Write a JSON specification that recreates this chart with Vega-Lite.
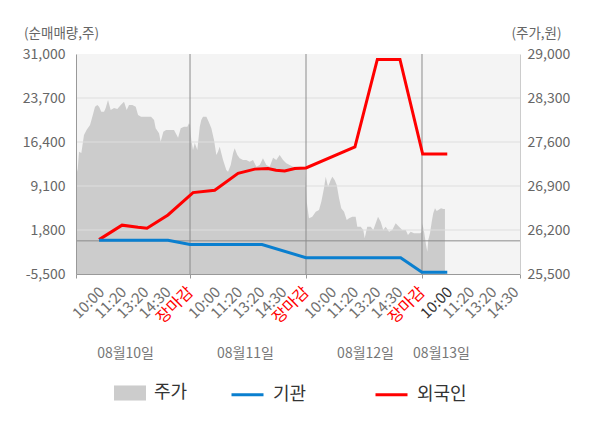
{
  "$schema": "https://vega.github.io/schema/vega-lite/v6.json",
  "width": 444,
  "height": 220,
  "autosize": {"type": "none"},
  "padding": {"left": 76, "top": 54, "right": 80, "bottom": 154},
  "background": "white",
  "config": {
    "view": {"fill": "#f4f4f4", "stroke": null},
    "font": "Noto Sans CJK KR",
    "axis": {"labelFont": "Noto Sans CJK KR", "titleFont": "Noto Sans CJK KR"},
    "legend": {"labelFont": "Noto Sans CJK KR"}
  },
  "datasets": {
    "price": [
      {"t":0.017,"p":27261,"s":"주가"},{"t":0.030,"p":27128,"s":"주가"},{"t":0.043,"p":27446,"s":"주가"},{"t":0.063,"p":27425,"s":"주가"},
      {"t":0.086,"p":27711,"s":"주가"},{"t":0.108,"p":27791,"s":"주가"},{"t":0.138,"p":27871,"s":"주가"},{"t":0.158,"p":28003,"s":"주가"},
      {"t":0.181,"p":28162,"s":"주가"},{"t":0.201,"p":28189,"s":"주가"},{"t":0.216,"p":28162,"s":"주가"},{"t":0.235,"p":28082,"s":"주가"},
      {"t":0.259,"p":28082,"s":"주가"},{"t":0.273,"p":28141,"s":"주가"},{"t":0.293,"p":28268,"s":"주가"},{"t":0.316,"p":28109,"s":"주가"},
      {"t":0.345,"p":28141,"s":"주가"},{"t":0.373,"p":28125,"s":"주가"},{"t":0.403,"p":28189,"s":"주가"},{"t":0.431,"p":28241,"s":"주가"},
      {"t":0.454,"p":28109,"s":"주가"},{"t":0.474,"p":28189,"s":"주가"},{"t":0.503,"p":28189,"s":"주가"},{"t":0.532,"p":28162,"s":"주가"},
      {"t":0.552,"p":28030,"s":"주가"},{"t":0.578,"p":28003,"s":"주가"},{"t":0.612,"p":28003,"s":"주가"},{"t":0.664,"p":28003,"s":"주가"},
      {"t":0.690,"p":27950,"s":"주가"},{"t":0.704,"p":27818,"s":"주가"},{"t":0.733,"p":27739,"s":"주가"},{"t":0.747,"p":27605,"s":"주가"},
      {"t":0.770,"p":27764,"s":"주가"},{"t":0.793,"p":27791,"s":"주가"},{"t":0.862,"p":27791,"s":"주가"},{"t":0.877,"p":27739,"s":"주가"},
      {"t":0.897,"p":27669,"s":"주가"},{"t":0.920,"p":27818,"s":"주가"},{"t":0.948,"p":27844,"s":"주가"},{"t":0.977,"p":27844,"s":"주가"},
      {"t":0.991,"p":27898,"s":"주가"},{"t":1.000,"p":27871,"s":"주가"},{"t":1.011,"p":27632,"s":"주가"},{"t":1.026,"p":27473,"s":"주가"},
      {"t":1.041,"p":27584,"s":"주가"},{"t":1.063,"p":27473,"s":"주가"},{"t":1.084,"p":27844,"s":"주가"},{"t":1.097,"p":27950,"s":"주가"},
      {"t":1.112,"p":28003,"s":"주가"},{"t":1.141,"p":28003,"s":"주가"},{"t":1.161,"p":27923,"s":"주가"},{"t":1.184,"p":27818,"s":"주가"},
      {"t":1.207,"p":27632,"s":"주가"},{"t":1.227,"p":27393,"s":"주가"},{"t":1.241,"p":27446,"s":"주가"},{"t":1.256,"p":27525,"s":"주가"},
      {"t":1.270,"p":27420,"s":"주가"},{"t":1.285,"p":27314,"s":"주가"},{"t":1.313,"p":27155,"s":"주가"},{"t":1.328,"p":27128,"s":"주가"},
      {"t":1.351,"p":27234,"s":"주가"},{"t":1.371,"p":27420,"s":"주가"},{"t":1.385,"p":27500,"s":"주가"},{"t":1.408,"p":27393,"s":"주가"},
      {"t":1.428,"p":27341,"s":"주가"},{"t":1.457,"p":27314,"s":"주가"},{"t":1.485,"p":27314,"s":"주가"},{"t":1.515,"p":27287,"s":"주가"},
      {"t":1.543,"p":27314,"s":"주가"},{"t":1.572,"p":27207,"s":"주가"},{"t":1.601,"p":27234,"s":"주가"},{"t":1.629,"p":27341,"s":"주가"},
      {"t":1.658,"p":27234,"s":"주가"},{"t":1.687,"p":27207,"s":"주가"},{"t":1.716,"p":27350,"s":"주가"},{"t":1.744,"p":27314,"s":"주가"},
      {"t":1.773,"p":27393,"s":"주가"},{"t":1.802,"p":27314,"s":"주가"},{"t":1.830,"p":27261,"s":"주가"},{"t":1.860,"p":27234,"s":"주가"},
      {"t":1.888,"p":27207,"s":"주가"},{"t":1.991,"p":27207,"s":"주가"},{"t":2.006,"p":26650,"s":"주가"},{"t":2.026,"p":26386,"s":"주가"},
      {"t":2.054,"p":26412,"s":"주가"},{"t":2.084,"p":26491,"s":"주가"},{"t":2.112,"p":26518,"s":"주가"},{"t":2.132,"p":26650,"s":"주가"},
      {"t":2.155,"p":26863,"s":"주가"},{"t":2.170,"p":27048,"s":"주가"},{"t":2.190,"p":26889,"s":"주가"},{"t":2.213,"p":26996,"s":"주가"},
      {"t":2.227,"p":27048,"s":"주가"},{"t":2.247,"p":26996,"s":"주가"},{"t":2.265,"p":26916,"s":"주가"},{"t":2.285,"p":26704,"s":"주가"},
      {"t":2.304,"p":26545,"s":"주가"},{"t":2.328,"p":26491,"s":"주가"},{"t":2.351,"p":26359,"s":"주가"},{"t":2.371,"p":26386,"s":"주가"},
      {"t":2.399,"p":26412,"s":"주가"},{"t":2.428,"p":26412,"s":"주가"},{"t":2.442,"p":26253,"s":"주가"},{"t":2.472,"p":26253,"s":"주가"},
      {"t":2.494,"p":26200,"s":"주가"},{"t":2.506,"p":26068,"s":"주가"},{"t":2.528,"p":26253,"s":"주가"},{"t":2.558,"p":26253,"s":"주가"},
      {"t":2.580,"p":26200,"s":"주가"},{"t":2.601,"p":26307,"s":"주가"},{"t":2.621,"p":26412,"s":"주가"},{"t":2.644,"p":26332,"s":"주가"},
      {"t":2.666,"p":26200,"s":"주가"},{"t":2.687,"p":26253,"s":"주가"},{"t":2.716,"p":26173,"s":"주가"},{"t":2.744,"p":26200,"s":"주가"},
      {"t":2.773,"p":26307,"s":"주가"},{"t":2.802,"p":26253,"s":"주가"},{"t":2.830,"p":26200,"s":"주가"},{"t":2.860,"p":26200,"s":"주가"},
      {"t":2.879,"p":26120,"s":"주가"},{"t":2.903,"p":26173,"s":"주가"},{"t":2.931,"p":26148,"s":"주가"},{"t":2.983,"p":26148,"s":"주가"},
      {"t":2.997,"p":26163,"s":"주가"},{"t":3.003,"p":26307,"s":"주가"},{"t":3.020,"p":26148,"s":"주가"},{"t":3.035,"p":25961,"s":"주가"},
      {"t":3.046,"p":25855,"s":"주가"},{"t":3.054,"p":26041,"s":"주가"},{"t":3.069,"p":26148,"s":"주가"},{"t":3.084,"p":26332,"s":"주가"},
      {"t":3.097,"p":26466,"s":"주가"},{"t":3.112,"p":26545,"s":"주가"},{"t":3.127,"p":26502,"s":"주가"},{"t":3.141,"p":26518,"s":"주가"},
      {"t":3.164,"p":26545,"s":"주가"},{"t":3.184,"p":26534,"s":"주가"},{"t":3.198,"p":26534,"s":"주가"}
    ],
    "flow": [
      {"t":0.216,"v":200,"s":"외국인"},{"t":0.414,"v":2600,"s":"외국인"},{"t":0.552,"v":2250,"s":"외국인"},{"t":0.629,"v":2100,"s":"외국인"},
      {"t":0.810,"v":4300,"s":"외국인"},{"t":1.026,"v":8000,"s":"외국인"},{"t":1.213,"v":8400,"s":"외국인"},{"t":1.414,"v":11200,"s":"외국인"},
      {"t":1.558,"v":11900,"s":"외국인"},{"t":1.672,"v":12000,"s":"외국인"},{"t":1.741,"v":11700,"s":"외국인"},{"t":1.816,"v":11600,"s":"외국인"},
      {"t":1.903,"v":12000,"s":"외국인"},{"t":2.000,"v":12100,"s":"외국인"},{"t":2.422,"v":15600,"s":"외국인"},{"t":2.615,"v":30100,"s":"외국인"},
      {"t":2.810,"v":30100,"s":"외국인"},{"t":3.006,"v":14400,"s":"외국인"},{"t":3.218,"v":14400,"s":"외국인"},
      {"t":0.216,"v":100,"s":"기관"},{"t":0.810,"v":100,"s":"기관"},{"t":1.000,"v":-600,"s":"기관"},{"t":1.621,"v":-600,"s":"기관"},
      {"t":2.000,"v":-2800,"s":"기관"},{"t":2.816,"v":-2800,"s":"기관"},{"t":3.000,"v":-5200,"s":"기관"},{"t":3.218,"v":-5200,"s":"기관"}
    ]
  },
  "layer": [
    {
      "data": {"name": "price"},
      "mark": {"type": "area", "interpolate": "linear"},
      "encoding": {
        "x": {
          "field": "t", "type": "quantitative",
          "scale": {"domain": [0.017, 3.845], "nice": false, "zero": false},
          "axis": {
            "orient": "bottom", "zindex": 1, "title": null, "grid": false,
            "values": [0.017, 0.235, 0.426, 0.617, 0.808, 1, 1.235, 1.426, 1.617, 1.808, 2, 2.235, 2.426, 2.617, 2.808, 3, 3.235, 3.426, 3.617, 3.808, 3.845],
            "labelExpr": "datum.value < 0.1 || datum.value > 3.84 ? '' : datum.value % 1 < 0.01 ? '장마감' : datum.value % 1 < 0.3 ? '10:00' : datum.value % 1 < 0.5 ? '11:20' : datum.value % 1 < 0.7 ? '13:20' : '14:30'",
            "labelAngle": -45, "labelAlign": "right", "labelBaseline": "middle", "labelPadding": 11,
            "labelFontSize": {"condition": {"test": "datum.value % 1 < 0.01", "value": 16}, "value": 15},
            "labelOverlap": false, "labelFlush": false, "labelBound": false,
            "labelColor": {"condition": [{"test": "datum.value % 1 < 0.01 && datum.value >= 1", "value": "#ff0000"}, {"test": "datum.value > 3.2 && datum.value < 3.3", "value": "#333333"}], "value": "#707070"},
            "tickOpacity": {"condition": {"test": "datum.value % 1 < 0.01 || datum.value < 0.1 || datum.value > 3.84", "value": 1}, "value": 0},
            "tickSize": 4, "tickColor": "#999999", "domainColor": "#999999"
          }
        },
        "y": {
          "field": "p", "type": "quantitative",
          "scale": {"domain": [25500, 29000], "nice": false, "zero": false},
          "axis": {
            "orient": "right", "zindex": 1, "values": [25500, 26200, 26900, 27600, 28300, 29000], "format": ",d",
            "ticks": false, "grid": false, "domain": true, "domainColor": "#cccccc",
            "labelPadding": 7, "labelFontSize": 14, "labelColor": "#666666",
            "title": "(주가,원)", "titleAngle": 0, "titleAlign": "center", "titleBaseline": "middle",
            "titleX": 16, "titleY": -21, "titleFontSize": 13.5, "titleFontWeight": "normal", "titleColor": "#666666"
          }
        },
        "y2": {"datum": 25500},
        "fill": {
          "field": "s", "type": "nominal",
          "scale": {"domain": ["주가"], "range": ["#cccccc"]},
          "legend": {
            "title": null, "orient": "none", "legendX": 38, "legendY": 323, "direction": "horizontal", "padding": 0,
            "symbolType": "M-1,-0.47H1V0.47H-1Z", "symbolSize": 1024, "symbolStrokeWidth": 0,
            "symbolOpacity": 1, "labelFontSize": 18, "labelColor": "#333333", "labelOffset": 8, "labelLimit": 200
          }
        }
      }
    },
    {
      "layer": [
        {"data": {"values": [{}]}, "mark": {"type": "rule", "color": "#dedede", "strokeWidth": 1},
         "encoding": {"y": {"datum": 1800, "type": "quantitative", "scale": {"domain": [-5500, 31000], "nice": false, "zero": false}}}},
        {"data": {"values": [{}]}, "mark": {"type": "rule", "color": "#dedede", "strokeWidth": 1},
         "encoding": {"y": {"datum": 9100, "type": "quantitative", "scale": {"domain": [-5500, 31000], "nice": false, "zero": false}}}},
        {"data": {"values": [{}]}, "mark": {"type": "rule", "color": "#dedede", "strokeWidth": 1},
         "encoding": {"y": {"datum": 16400, "type": "quantitative", "scale": {"domain": [-5500, 31000], "nice": false, "zero": false}}}},
        {"data": {"values": [{}]}, "mark": {"type": "rule", "color": "#dedede", "strokeWidth": 1},
         "encoding": {"y": {"datum": 23700, "type": "quantitative", "scale": {"domain": [-5500, 31000], "nice": false, "zero": false}}}},
        {"data": {"values": [{}]}, "mark": {"type": "rule", "color": "#8c8c8c", "strokeWidth": 1},
         "encoding": {"y": {"datum": 0, "type": "quantitative", "scale": {"domain": [-5500, 31000], "nice": false, "zero": false}}}},
        {"data": {"values": [{}]}, "mark": {"type": "rule", "color": "#8c8c8c", "strokeWidth": 1},
         "encoding": {"x": {"datum": 1, "type": "quantitative"}}},
        {"data": {"values": [{}]}, "mark": {"type": "rule", "color": "#8c8c8c", "strokeWidth": 1},
         "encoding": {"x": {"datum": 2, "type": "quantitative"}}},
        {"data": {"values": [{}]}, "mark": {"type": "rule", "color": "#8c8c8c", "strokeWidth": 1},
         "encoding": {"x": {"datum": 3, "type": "quantitative"}}},
        {
          "data": {"name": "flow"},
          "mark": {"type": "line", "strokeWidth": 3, "interpolate": "linear"},
          "encoding": {
            "x": {
              "field": "t", "type": "quantitative",
              "scale": {"domain": [0.017, 3.845], "nice": false, "zero": false},
              "axis": {
                "orient": "bottom", "title": null, "grid": false, "ticks": false, "domain": false,
                "values": [0.44, 1.474, 2.509, 3.164],
                "labelExpr": "datum.value < 1 ? '08월10일' : datum.value < 2 ? '08월11일' : datum.value < 3 ? '08월12일' : '08월13일'",
                "labelAngle": 0, "labelAlign": "center", "labelBaseline": "middle", "labelPadding": 79,
                "labelFontSize": 14, "labelColor": "#777777", "labelOverlap": false, "labelFlush": false, "labelBound": false
              }
            },
            "y": {
              "field": "v", "type": "quantitative",
              "scale": {"domain": [-5500, 31000], "nice": false, "zero": false},
              "axis": {
                "orient": "left", "zindex": 1, "values": [-5500, 1800, 9100, 16400, 23700, 31000],
                "labelExpr": "datum.value < 0 ? '-' + format(-datum.value, ',d') : format(datum.value, ',d')",
                "ticks": false, "grid": false, "domain": true, "domainColor": "#999999",
                "labelPadding": 11, "labelFontSize": 14, "labelColor": "#666666",
                "title": "(순매매량,주)", "titleAngle": 0, "titleAlign": "center", "titleBaseline": "middle",
                "titleX": -15, "titleY": -21, "titleFontSize": 13.5, "titleFontWeight": "normal", "titleColor": "#666666"
              }
            },
            "stroke": {
              "field": "s", "type": "nominal",
              "scale": {"domain": ["기관", "외국인"], "range": ["#0a7fcf", "#ff0000"]},
              "legend": {
                "title": null, "orient": "none", "legendX": 154, "legendY": 323, "direction": "horizontal",
                "columns": 2, "columnPadding": 62, "padding": 0,
                "symbolSize": 1024, "symbolType": "stroke", "symbolStrokeWidth": 3,
                "labelFontSize": 18, "labelColor": "#333333", "labelOffset": 8, "labelLimit": 200
              }
            }
          }
        }
      ]
    }
  ],
  "resolve": {"scale": {"y": "independent"}, "axis": {"x": "independent"}}
}
